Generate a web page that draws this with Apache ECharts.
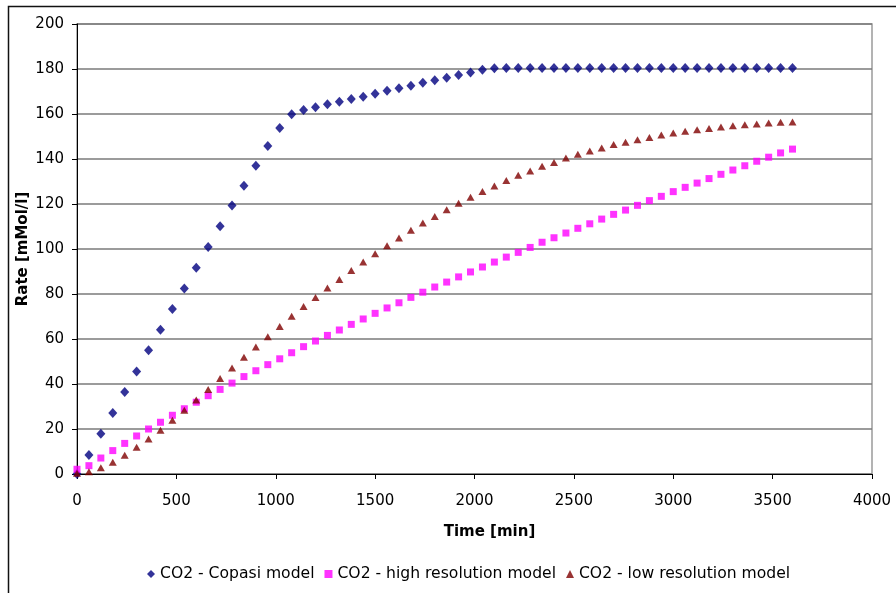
<!DOCTYPE html>
<html>
<head>
<meta charset="utf-8">
<script src="https://cdn.jsdelivr.net/npm/echarts@6/dist/echarts.min.js"></script>
<style>
  html, body { margin: 0; padding: 0; background: #fff; }
</style>
</head>
<body>
<div id="myChart" style="width: 896px; height: 593px;"></div>
<script>
// time points [min]
var times = [0, 60, 120, 180, 240, 300, 360, 420, 480, 540, 600, 660, 720, 780, 840, 900, 960, 1020,
  1080, 1140, 1200, 1260, 1320, 1380, 1440, 1500, 1560, 1620, 1680, 1740, 1800, 1860, 1920, 1980,
  2040, 2100, 2160, 2220, 2280, 2340, 2400, 2460, 2520, 2580, 2640, 2700, 2760, 2820, 2880, 2940,
  3000, 3060, 3120, 3180, 3240, 3300, 3360, 3420, 3480, 3540, 3600];

var copasi = [0, 8.4, 17.9, 27.1, 36.4, 45.6, 55.0, 64.1, 73.3, 82.5, 91.7, 100.9, 110.1, 119.3, 128.1,
  137.0, 145.8, 153.8, 159.9, 161.8, 163.0, 164.3, 165.5, 166.7, 167.7, 169.0, 170.3, 171.4, 172.6,
  173.9, 175.0, 176.1, 177.3, 178.5, 179.7, 180.3, 180.4, 180.4, 180.4, 180.4, 180.4, 180.4, 180.4,
  180.4, 180.4, 180.4, 180.4, 180.4, 180.4, 180.4, 180.4, 180.4, 180.4, 180.4, 180.4, 180.4, 180.4,
  180.4, 180.4, 180.4, 180.4];

var highRes = [2.1, 3.7, 7.1, 10.4, 13.6, 16.9, 20.0, 23.0, 26.1, 29.0, 31.9, 34.8, 37.6, 40.4, 43.3,
  45.9, 48.6, 51.2, 53.9, 56.6, 59.1, 61.6, 64.0, 66.5, 68.9, 71.4, 73.8, 76.1, 78.5, 80.8, 83.1,
  85.3, 87.6, 89.8, 92.0, 94.2, 96.4, 98.5, 100.7, 103.0, 105.0, 107.1, 109.2, 111.2, 113.3, 115.4,
  117.3, 119.4, 121.5, 123.4, 125.5, 127.4, 129.3, 131.3, 133.2, 135.1, 137.0, 139.0, 140.8, 142.7,
  144.4];

var lowRes = [0.3, 1.0, 2.8, 5.2, 8.3, 11.9, 15.6, 19.4, 23.9, 28.3, 32.9, 37.6, 42.4, 47.1, 51.9,
  56.4, 61.0, 65.6, 70.1, 74.4, 78.5, 82.7, 86.5, 90.5, 94.2, 97.9, 101.5, 104.9, 108.3, 111.6,
  114.5, 117.5, 120.3, 123.0, 125.6, 128.0, 130.4, 132.8, 134.7, 136.8, 138.5, 140.4, 142.1, 143.6,
  144.9, 146.4, 147.4, 148.6, 149.6, 150.7, 151.6, 152.3, 153.0, 153.6, 154.2, 154.8, 155.2, 155.6,
  156.0, 156.3, 156.4];

var seriesNames = ["CO2 - Copasi model", "CO2 - high resolution model", "CO2 - low resolution model"];

function pairs(vals) {
  return times.map(function (t, i) { return [t, vals[i]]; });
}

var font = "DejaVu Sans";
var myChart = echarts.init(document.getElementById("myChart"), null, { renderer: "canvas" });

var option = {
  backgroundColor: "#fff",
  animation: false,
  textStyle: { fontFamily: font, color: "#000" },
  graphic: [
    {
      // outer chart frame (only top/left visible)
      type: "rect",
      left: 6, top: 4,
      shape: { width: 1000, height: 1000 },
      style: { fill: null, stroke: "#111", lineWidth: 1.5 },
      z: 0
    }
  ],
  grid: {
    left: 77, right: 24, top: 24, bottom: 119,
    show: true,
    borderColor: "#9a9a9a",
    borderWidth: 1.5,
    backgroundColor: "#fff"
  },
  legend: {
    data: [
      { name: seriesNames[0], icon: "diamond" },
      { name: seriesNames[1], icon: "rect" },
      { name: seriesNames[2], icon: "triangle" }
    ],
    left: 142,
    top: 561,
    itemWidth: 8,
    itemHeight: 8,
    itemGap: 10,
    textStyle: { fontFamily: font, fontSize: 15.6, color: "#000" }
  },
  xAxis: {
    type: "value",
    min: 0, max: 4000, interval: 500,
    name: "Time [min]",
    nameLocation: "middle",
    nameGap: 51,
    nameMoveOverlap: false,
    nameTextStyle: { fontFamily: font, fontSize: 15, fontWeight: "bold", color: "#000", padding: [0, 0, 0, 30] },
    axisLine: { show: true, lineStyle: { color: "#000", width: 1 } },
    axisTick: { show: true, length: 5, lineStyle: { color: "#000" } },
    axisLabel: { fontFamily: font, fontSize: 15, color: "#000", margin: 20, formatter: function (v) { return String(v); } },
    splitLine: { show: false }
  },
  yAxis: {
    type: "value",
    min: 0, max: 200, interval: 20,
    name: "Rate [mMol/l]",
    nameLocation: "middle",
    nameGap: 46,
    nameMoveOverlap: false,
    nameTextStyle: { fontFamily: font, fontSize: 15, fontWeight: "bold", color: "#000" },
    axisLine: { show: true, lineStyle: { color: "#000", width: 1 } },
    axisTick: { show: true, length: 5, lineStyle: { color: "#000" } },
    axisLabel: { fontFamily: font, fontSize: 15, color: "#000", margin: 13 },
    splitLine: { show: true, lineStyle: { color: "#7a7a7a", width: 1.5 } }
  },
  series: [
    {
      name: seriesNames[0],
      type: "scatter",
      symbol: "diamond",
      symbolSize: [9, 10],
      itemStyle: { color: "#000080" },
      data: pairs(copasi)
    },
    {
      name: seriesNames[1],
      type: "scatter",
      symbol: "rect",
      symbolSize: 7,
      itemStyle: { color: "#ff00ff" },
      data: pairs(highRes)
    },
    {
      name: seriesNames[2],
      type: "scatter",
      symbol: "triangle",
      symbolSize: [8, 7],
      itemStyle: { color: "#800000" },
      data: pairs(lowRes)
    }
  ]
};
myChart.setOption(option);
</script>
</body>
</html>
